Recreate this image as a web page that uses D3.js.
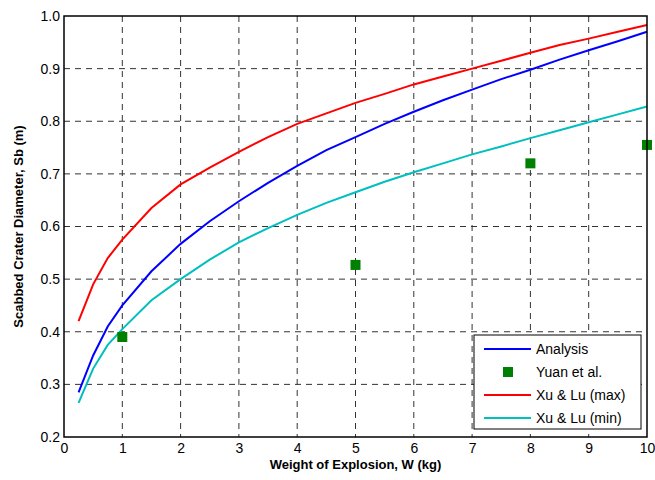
<!DOCTYPE html>
<html>
<head>
<meta charset="UTF-8" />
<script src="https://d3js.org/d3.v7.min.js"></script>
<style>
  body { margin: 0; background: #fff; }
  text { font-family: "Liberation Sans", Arial, sans-serif; }
</style>
</head>
<body>
<div id="chart"></div>
<script>
// weights (kg) at which the curves are sampled
var weights = [0.25, 0.5, 0.75, 1, 1.5, 2, 2.5, 3, 3.5, 4, 4.5, 5, 5.5, 6, 6.5, 7, 7.5, 8, 8.5, 9, 9.5, 10];
var analysis = [0.285, 0.355, 0.41, 0.45, 0.515, 0.567, 0.61, 0.648, 0.683, 0.715, 0.745, 0.77, 0.795, 0.818, 0.84, 0.86, 0.88, 0.898, 0.917, 0.935, 0.952, 0.97];
var xuMax = [0.42, 0.49, 0.54, 0.575, 0.635, 0.68, 0.712, 0.742, 0.77, 0.795, 0.815, 0.835, 0.852, 0.87, 0.885, 0.9, 0.915, 0.93, 0.945, 0.957, 0.97, 0.983];
var xuMin = [0.265, 0.33, 0.375, 0.405, 0.46, 0.5, 0.537, 0.57, 0.597, 0.622, 0.645, 0.665, 0.685, 0.703, 0.72, 0.737, 0.752, 0.768, 0.783, 0.798, 0.813, 0.828];
var yuanW = [1, 5, 8, 10];
var yuanSb = [0.39, 0.527, 0.72, 0.755];
var xTicks = [0, 1, 2, 3, 4, 5, 6, 7, 8, 9, 10];
var yTicks = [0.2, 0.3, 0.4, 0.5, 0.6, 0.7, 0.8, 0.9, 1.0];

var W = 655, H = 480;
var margin = {top: 16, right: 8, bottom: 43, left: 64};
var width = W - margin.left - margin.right,
    height = H - margin.top - margin.bottom;

var svg = d3.select("#chart").append("svg")
    .attr("width", W).attr("height", H);
var g = svg.append("g")
    .attr("transform", "translate(" + margin.left + "," + margin.top + ")");

var x = d3.scaleLinear().domain([0, 10]).range([0, width]);
var y = d3.scaleLinear().domain([0.2, 1.0]).range([height, 0]);

// grid
g.selectAll(".vgrid").data(xTicks.slice(1, -1)).enter().append("line")
    .attr("x1", function(d) { return x(d); }).attr("x2", function(d) { return x(d); })
    .attr("y1", 0).attr("y2", height)
    .attr("stroke", "#333").attr("stroke-width", 1).attr("stroke-dasharray", "6,5");
g.selectAll(".hgrid").data(yTicks.slice(1, -1)).enter().append("line")
    .attr("y1", function(d) { return y(d); }).attr("y2", function(d) { return y(d); })
    .attr("x1", 0).attr("x2", width)
    .attr("stroke", "#333").attr("stroke-width", 1).attr("stroke-dasharray", "6,5");

// axes
var xAxis = g.append("g").attr("transform", "translate(0," + height + ")")
    .call(d3.axisBottom(x).tickValues(xTicks).tickSize(0).tickPadding(6).tickFormat(d3.format("d")));
var yAxis = g.append("g")
    .call(d3.axisLeft(y).tickValues(yTicks).tickSize(0).tickPadding(4).tickFormat(d3.format(".1f")));
[xAxis, yAxis].forEach(function(a) {
  a.select(".domain").remove();
  a.selectAll("text").style("font-size", "14px").attr("fill", "#000");
});

// series
var line = d3.line()
    .x(function(d) { return x(d[0]); })
    .y(function(d) { return y(d[1]); });
function pairs(vals) { return weights.map(function(w, i) { return [w, vals[i]]; }); }

g.append("path").datum(pairs(xuMin)).attr("d", line)
    .attr("fill", "none").attr("stroke", "#00bfbf").attr("stroke-width", 2);
g.append("path").datum(pairs(xuMax)).attr("d", line)
    .attr("fill", "none").attr("stroke", "#ff0000").attr("stroke-width", 2);
g.append("path").datum(pairs(analysis)).attr("d", line)
    .attr("fill", "none").attr("stroke", "#0000ff").attr("stroke-width", 2);

var sq = 10;
g.selectAll(".yuan").data(yuanW.map(function(w, i) { return [w, yuanSb[i]]; }))
  .enter().append("rect")
    .attr("x", function(d) { return x(d[0]) - sq / 2; })
    .attr("y", function(d) { return y(d[1]) - sq / 2; })
    .attr("width", sq).attr("height", sq)
    .attr("fill", "#008000");

// frame
g.append("rect").attr("width", width).attr("height", height)
    .attr("fill", "none").attr("stroke", "#000").attr("stroke-width", 1.5);

// axis labels
svg.append("text")
    .attr("x", margin.left + width / 2).attr("y", 469)
    .attr("text-anchor", "middle").style("font-size", "13px").style("font-weight", "bold")
    .text("Weight of Explosion, W (kg)");
svg.append("text")
    .attr("transform", "translate(23," + (margin.top + height / 2) + ") rotate(-90)")
    .attr("text-anchor", "middle").style("font-size", "13px").style("font-weight", "bold")
    .text("Scabbed Crater Diameter, Sb (m)");

// legend
var legend = svg.append("g").attr("transform", "translate(474,335)");
legend.append("rect").attr("width", 167).attr("height", 94)
    .attr("fill", "#fff").attr("stroke", "#000").attr("stroke-width", 1);
var legItems = [
  {name: "Analysis", color: "#0000ff", type: "line"},
  {name: "Yuan et al.", color: "#008000", type: "square"},
  {name: "Xu & Lu (max)", color: "#ff0000", type: "line"},
  {name: "Xu & Lu (min)", color: "#00bfbf", type: "line"}
];
legItems.forEach(function(d, i) {
  var yy = 14 + i * 23;
  if (d.type == "line") {
    legend.append("line").attr("x1", 10).attr("x2", 57).attr("y1", yy).attr("y2", yy)
        .attr("stroke", d.color).attr("stroke-width", 2);
  } else {
    legend.append("rect").attr("x", 29).attr("y", yy - 5).attr("width", 10).attr("height", 10)
        .attr("fill", d.color);
  }
  legend.append("text").attr("x", 62).attr("y", yy + 5)
      .style("font-size", "14px").text(d.name);
});
</script>
</body>
</html>
